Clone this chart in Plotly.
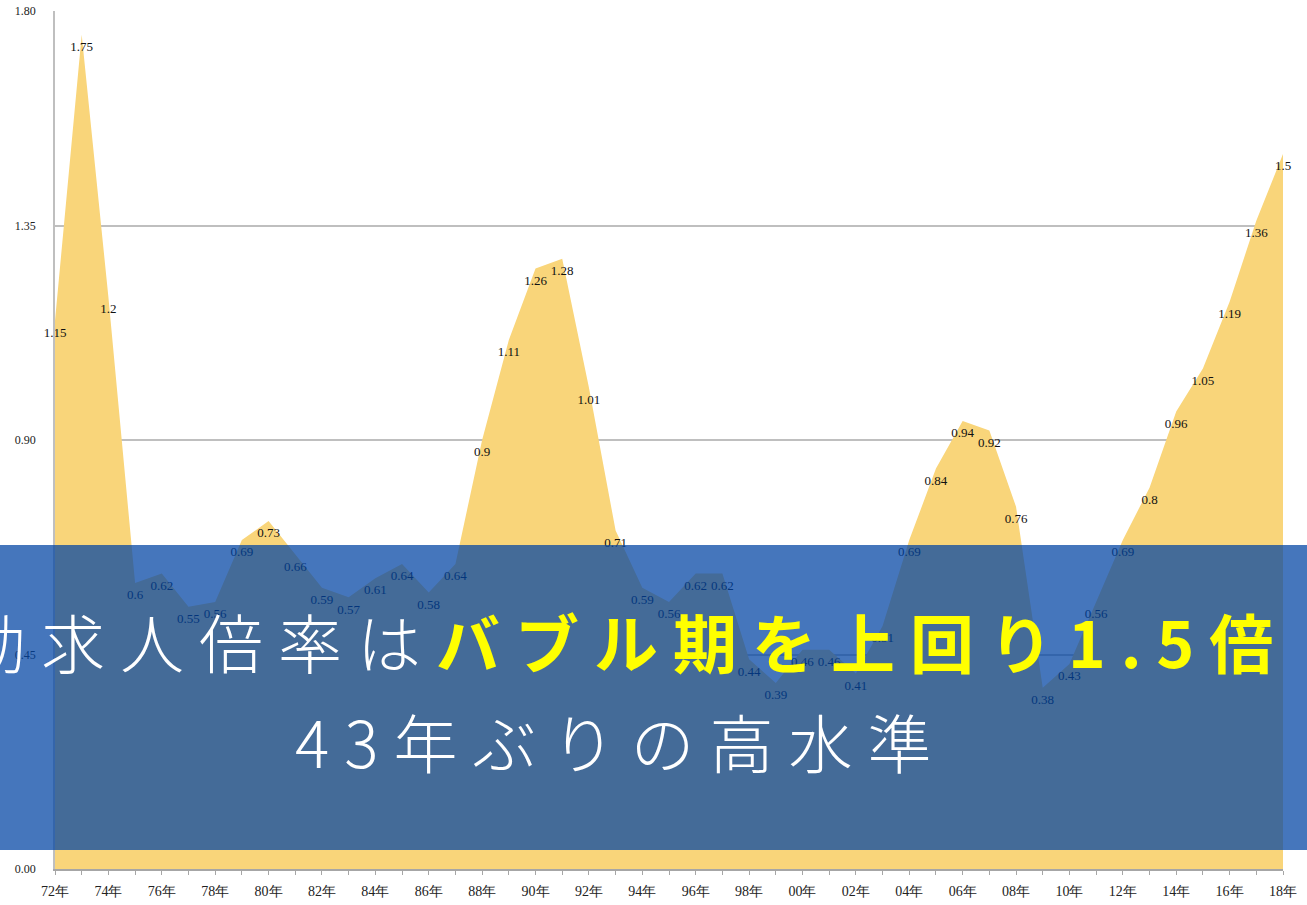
import plotly.graph_objects as go

# ---- data ----
years = list(range(1972, 2019))
values = [1.15, 1.75, 1.2, 0.6, 0.62, 0.55, 0.56, 0.69, 0.73, 0.66,
          0.59, 0.57, 0.61, 0.64, 0.58, 0.64, 0.9, 1.11, 1.26, 1.28,
          1.01, 0.71, 0.59, 0.56, 0.62, 0.62, 0.44, 0.39, 0.46, 0.46,
          0.41, 0.51, 0.69, 0.84, 0.94, 0.92, 0.76, 0.38, 0.43, 0.56,
          0.69, 0.8, 0.96, 1.05, 1.19, 1.36, 1.5]
x_tick_labels = [f"{y % 100:02d}年" if y % 2 == 0 else "" for y in years]
y_ticks = [0.0, 0.45, 0.9, 1.35, 1.8]
y_tick_labels = ["0.00", "0.45", "0.90", "1.35", "1.80"]
title_white = "有効求人倍率は"
title_yellow = "バブル期を上回り1.5倍"
subtitle = "43年ぶりの高水準"

W, H = 1307, 905
L, R, T, B = 55, 24, 11, 36
pw, ph = W - L - R, H - T - B
Y_MAX = 1.8


def px_x(p):
    return (p - L) / pw


def px_y(p):
    return (H - B - p) / ph


# data labels sit ~13 px below each point (converted to data units)
label_drop = 13 / ph * Y_MAX

serif = "Liberation Serif"

fig = go.Figure()
fig.add_trace(go.Scatter(
    x=years, y=values,
    mode="lines",
    fill="tozeroy",
    fillcolor="#F9D57A",
    line=dict(width=0, color="#F9D57A"),
    hoverinfo="skip",
    showlegend=False,
))
fig.add_trace(go.Scatter(
    x=years, y=[v - label_drop for v in values],
    mode="text",
    text=[str(v) for v in values],
    textposition="middle center",
    textfont=dict(family=serif, size=13, color="#111111"),
    hoverinfo="skip",
    showlegend=False,
    cliponaxis=False,
))

fig.update_layout(
    width=W, height=H,
    margin=dict(l=L, r=R, t=T, b=B),
    paper_bgcolor="white",
    plot_bgcolor="white",
    xaxis=dict(
        range=[1972, 2018],
        tickvals=years, ticktext=x_tick_labels,
        tickangle=0, automargin=False,
        showgrid=False, zeroline=False,
        showline=True, linecolor="#A6A6A6", linewidth=1.5,
        ticks="outside", ticklen=4, tickcolor="#A6A6A6",
        ticklabelstandoff=4,
        tickfont=dict(family=serif, size=14, color="#222222"),
    ),
    yaxis=dict(
        range=[0, Y_MAX],
        tickvals=y_ticks, ticktext=y_tick_labels,
        automargin=False,
        showgrid=True, gridcolor="#BFBFBF", gridwidth=1.5,
        zeroline=False,
        showline=True, linecolor="#BFBFBF", linewidth=1.5,
        ticks="", ticklabelstandoff=15,
        tickfont=dict(family=serif, size=12, color="#222222"),
    ),
    shapes=[dict(
        type="rect", xref="paper", yref="paper", layer="above",
        x0=px_x(0), x1=px_x(W), y0=px_y(850), y1=px_y(545),
        fillcolor="rgba(0,67,163,0.73)", line=dict(width=0),
    )],
    annotations=[
        dict(
            xref="paper", yref="paper",
            x=px_x(1290), y=px_y(640),
            xanchor="right", yanchor="middle",
            showarrow=False,
            text=(f"<span style='letter-spacing:15px'>"
                  f"<span style='font-weight:300'>{title_white}</span>"
                  f"<span style='color:#FFFF00'><b>{title_yellow}</b></span></span>"),
            font=dict(family="Noto Sans CJK JP", size=64, color="white"),
        ),
        dict(
            xref="paper", yref="paper",
            x=px_x(293), y=px_y(740),
            xanchor="left", yanchor="middle",
            showarrow=False,
            text=f"<span style='letter-spacing:15px;font-weight:300'>{subtitle}</span>",
            font=dict(family="Noto Sans CJK JP", size=64, color="white"),
        ),
    ],
)

fig.write_html("out.html",
               config={"displayModeBar": False},
               post_script="document.body.style.margin='0';")
